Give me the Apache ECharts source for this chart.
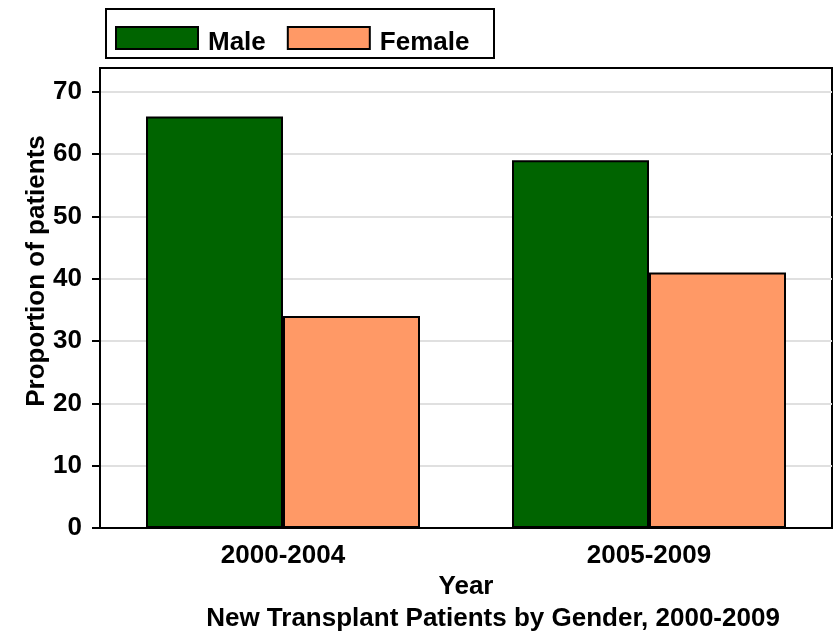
<!DOCTYPE html>
<html>
<head>
<meta charset="utf-8">
<script src="https://cdn.jsdelivr.net/npm/echarts@6/dist/echarts.min.js"></script>
<style>
  html, body { margin: 0; padding: 0; background: #fff; }
  #chart { width: 836px; height: 633px; }
</style>
</head>
<body>
<div id="chart"></div>
<script>
// chart data
const years = ["2000-2004", "2005-2009"];
const maleValues = [66, 59];
const femaleValues = [34, 41];
const yTicks = [0, 10, 20, 30, 40, 50, 60, 70];
const yMax = 73.8;

const font = "'Liberation Sans', Arial, sans-serif";
const txt = { color: "#000", fontFamily: font, fontWeight: "bold", fontSize: 26 };

// legend swatch: 82x22 box sitting at the top of a 82x32 cell, so the label sits a bit lower
const swatch = "path://M0,0L82,0L82,22L0,22Z M0,32";

const chart = echarts.init(document.getElementById("chart"));

const option = {
  animation: false,
  backgroundColor: "#fff",
  textStyle: { fontFamily: font },
  grid: {
    left: 100,
    right: 4,
    top: 68,
    bottom: 105,
    show: true,
    borderColor: "#000",
    borderWidth: 2,
    backgroundColor: "transparent"
  },
  legend: {
    left: 115,
    top: 26,
    padding: 0,
    itemGap: 21,
    itemWidth: 82,
    itemHeight: 32,
    icon: swatch,
    data: ["Male", "Female"],
    textStyle: Object.assign({}, txt, { padding: [0, 0, 0, 5] })
  },
  // legend frame and bottom caption
  graphic: [
    {
      type: "rect",
      shape: { x: 106, y: 9, width: 388, height: 49 },
      style: { fill: "none", stroke: "#000", lineWidth: 2 }
    },
    {
      type: "text",
      x: 493,
      y: 606,
      style: {
        text: "New Transplant Patients by Gender, 2000-2009",
        fill: "#000",
        font: "bold 26px " + font,
        textAlign: "center",
        textVerticalAlign: "top"
      }
    }
  ],
  xAxis: {
    type: "category",
    data: years,
    name: "Year",
    nameLocation: "middle",
    nameGap: 46,
    nameMoveOverlap: false,
    nameTextStyle: txt,
    axisLine: { lineStyle: { color: "#000", width: 2 } },
    axisTick: { show: false },
    axisLabel: Object.assign({}, txt, { margin: 15 })
  },
  yAxis: {
    type: "value",
    min: 0,
    max: yMax,
    interval: 10,
    name: "Proportion of patients",
    nameLocation: "middle",
    nameGap: 50,
    nameMoveOverlap: false,
    nameTextStyle: Object.assign({}, txt, { padding: [0, 0, 0, 54] }),
    axisLine: { show: true, lineStyle: { color: "#000", width: 2 } },
    axisTick: {
      show: true,
      length: 8,
      customValues: yTicks,
      lineStyle: { color: "#000", width: 2 }
    },
    axisLabel: Object.assign({}, txt, { margin: 18, customValues: yTicks }),
    splitLine: { show: true, lineStyle: { color: "#e0e0e0", width: 2 } }
  },
  series: [
    {
      name: "Male",
      type: "bar",
      data: maleValues,
      barWidth: 137,
      barGap: "0%",
      itemStyle: { color: "#006400", borderColor: "#000", borderWidth: 2 }
    },
    {
      name: "Female",
      type: "bar",
      data: femaleValues,
      barWidth: 137,
      itemStyle: { color: "#FF9966", borderColor: "#000", borderWidth: 2 }
    }
  ]
};

chart.setOption(option);
</script>
</body>
</html>
